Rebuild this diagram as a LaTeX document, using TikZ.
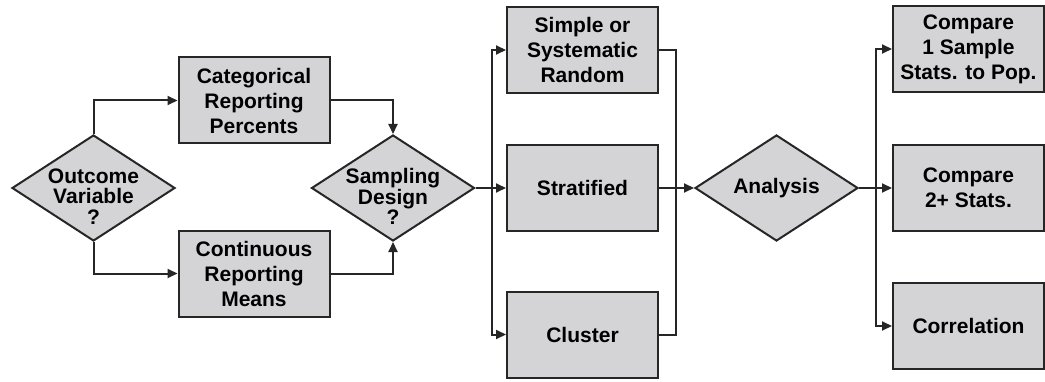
\documentclass[tikz,border=0pt]{standalone}
\usepackage{fontspec}
\setmainfont{Liberation Sans}
\usetikzlibrary{arrows.meta,shapes.geometric}

\definecolor{boxfill}{HTML}{D4D4D6}
\definecolor{edge}{HTML}{262626}

\tikzset{
  base/.style={draw=edge, line width=2pt, fill=boxfill, inner sep=0pt},
  stepbox/.style={base, rectangle, minimum width=151pt, minimum height=86pt,
    align=center, font=\fontsize{21}{25}\selectfont\bfseries},
  decision/.style={base, diamond, minimum width=163pt, minimum height=106pt},
  dtext/.style={align=center, font=\fontsize{21}{20.5}\selectfont\bfseries},
  link/.style={draw=edge, line width=2pt},
  arr/.style={link, -{Triangle[length=10pt,width=9pt]}},
}

\begin{document}
\begin{tikzpicture}[x=1pt, y=1pt]
\useasboundingbox (0,0) rectangle (1045,381);

% decision diamonds
\node[decision] (outcome)  at (93.5,193) {};
\node[dtext]    (outcomet) at (93.5,184.5) {Outcome\\Variable\\?};
\node[decision] (sampling) at (393,193) {};
\node[dtext]    (samplingt) at (393,184.5) {Sampling\\Design\\?};
\node[decision] (analysis) at (776.5,193) {};
\node[dtext]    (analysist) at (776.5,193) {Analysis};

% outcome types
\node[stepbox] (cat)  at (254,280.5) {Categorical\\Reporting\\Percents};
\node[stepbox] (cont) at (254,107.5) {Continuous\\Reporting\\Means};

% sampling designs
\node[stepbox] (simple)  at (582.5,331) {Simple or\\Systematic\\Random};
\node[stepbox] (strat)   at (582.5,193) {Stratified};
\node[stepbox] (cluster) at (582.5,46.5) {Cluster};

% analyses
\node[stepbox] (cmp1) at (968.5,332) {Compare\\1 Sample\\Stats. to Pop.};
\node[stepbox] (cmp2) at (968.5,193) {Compare\\2+ Stats.};
\node[stepbox] (corr) at (968.5,55)  {Correlation};

% branch and join points
\coordinate (b1) at (492,193);
\coordinate (j1) at (676,193);
\coordinate (b2) at (876,193);

% connectors
\draw[arr] (outcome.north) |- (cat.west);
\draw[arr] (outcome.south) |- (cont.west);
\draw[arr] (cat.east) -| (sampling.north);
\draw[arr] (cont.east) -| (sampling.south);

\draw[link] (sampling.east) -- (b1);
\draw[arr] (b1) |- (simple.west);
\draw[arr] (b1) -- (strat.west);
\draw[arr] (b1) |- (cluster.west);

\draw[link] (simple.east) -| (j1) |- (cluster.east);
\draw[link] (strat.east) -- (j1);
\draw[arr] (j1) -- (analysis.west);

\draw[link] (analysis.east) -- (b2);
\draw[arr] (b2) |- (cmp1.west);
\draw[arr] (b2) -- (cmp2.west);
\draw[arr] (b2) |- (corr.west);
\end{tikzpicture}
\end{document}
